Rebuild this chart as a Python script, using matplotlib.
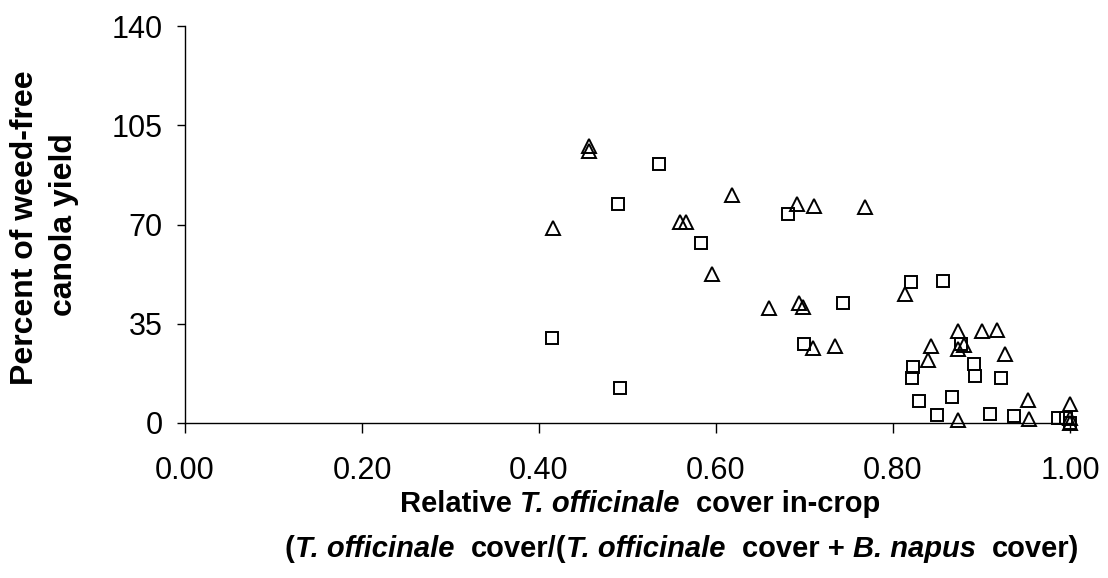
import matplotlib
matplotlib.use("Agg")
import matplotlib.pyplot as plt

plt.rcParams['font.family'] = ['Liberation Sans', 'DejaVu Sans']

# relative T. officinale cover vs percent of weed-free canola yield
sq_x = [0.415, 0.491, 0.489, 0.536, 0.583, 0.681, 0.699, 0.744, 0.820, 0.857,
        0.877, 0.823, 0.821, 0.891, 0.893, 0.922, 0.829, 0.867, 0.850, 0.910,
        0.937, 0.987, 0.995, 1.000]
sq_y = [30.0, 12.4, 77.3, 91.4, 63.3, 73.7, 27.8, 42.4, 49.8, 50.2,
        28.0, 19.8, 15.9, 20.7, 16.4, 15.7, 7.8, 9.2, 2.9, 3.0,
        2.4, 1.9, 1.9, 0.1]

tri_x = [0.416, 0.456, 0.456, 0.559, 0.566, 0.595, 0.618, 0.660, 0.691, 0.711,
         0.694, 0.698, 0.710, 0.735, 0.768, 0.813, 0.874, 0.901, 0.917, 0.843,
         0.880, 0.874, 0.926, 0.840, 0.953, 1.000, 0.874, 0.954, 1.000, 1.000]
tri_y = [68.7, 97.8, 96.0, 71.0, 71.0, 52.5, 80.5, 40.6, 77.3, 76.7,
         42.3, 40.9, 26.6, 27.3, 76.3, 45.6, 32.6, 32.3, 32.7, 27.2,
         27.6, 26.2, 24.3, 22.2, 8.1, 6.8, 1.2, 1.4, 1.9, 0.1]

x_ticks = [0.0, 0.2, 0.4, 0.6, 0.8, 1.0]
y_ticks = [0, 35, 70, 105, 140]

xlabel_1 = [("Relative", "normal"), (" ", "normal"), ("T. officinale", "italic"),
            ("  ", "normal"), ("cover in-crop", "normal")]
xlabel_2 = [("(", "normal"), ("T. officinale", "italic"), ("  ", "normal"),
            ("cover/(", "normal"), ("T. officinale", "italic"), ("  ", "normal"),
            ("cover + ", "normal"), ("B. napus", "italic"), ("  ", "normal"),
            ("cover)", "normal")]

W, H = 1108, 578
fig = plt.figure(figsize=(W / 100, H / 100), dpi=100)
ax = fig.add_axes([185 / W, 1 - 423 / H, (1070 - 185) / W, (423 - 26) / H])

ax.plot(sq_x, sq_y, ls='none', marker='s', ms=8.5, mfc='none', mec='black',
        mew=1.4, clip_on=False)
ax.plot(tri_x, tri_y, ls='none', marker='^', ms=10, mfc='none', mec='black',
        mew=1.4, clip_on=False)

ax.set_xlim(0, 1.0)
ax.set_ylim(0, 140)
ax.set_xticks(x_ticks)
ax.set_xticklabels([f"{v:.2f}" for v in x_ticks])
ax.set_yticks(y_ticks)
for s in ['top', 'right']:
    ax.spines[s].set_visible(False)
for s in ['left', 'bottom']:
    ax.spines[s].set_linewidth(1.0)
ax.tick_params(axis='x', direction='out', length=7, width=1, pad=17, labelsize=22)
ax.tick_params(axis='y', direction='out', length=6, width=1, pad=10, labelsize=22)

# axis titles
fig.text(25 / W, 1 - 228 / H, "Percent of weed-free", rotation=90,
         ha='center', va='center', fontsize=23, fontweight='bold')
fig.text(64 / W, 1 - 225 / H, "canola yield", rotation=90,
         ha='center', va='center', fontsize=23, fontweight='bold')


def rich_line(parts, cx, base_y, size):
    """Lay out bold text pieces (some italic) centred on cx px, baseline at base_y px."""
    r = fig.canvas.get_renderer()

    def advance(s, style):
        a = fig.text(0, 0, "|" + s + "|", fontsize=size, fontweight='bold', fontstyle=style)
        b = fig.text(0, 0, "||", fontsize=size, fontweight='bold', fontstyle=style)
        w = a.get_window_extent(r).width - b.get_window_extent(r).width
        a.remove()
        b.remove()
        return w

    widths = [advance(s, st) for s, st in parts]
    x = cx - sum(widths) / 2
    for (s, st), w in zip(parts, widths):
        if s.strip():
            fig.text(x / W, 1 - base_y / H, s, fontsize=size, fontweight='bold',
                     fontstyle=st, ha='left', va='baseline')
        x += w


rich_line(xlabel_1, 640, 512, 21)
rich_line(xlabel_2, 682, 557, 21)

fig.savefig("out.png", dpi=100)
